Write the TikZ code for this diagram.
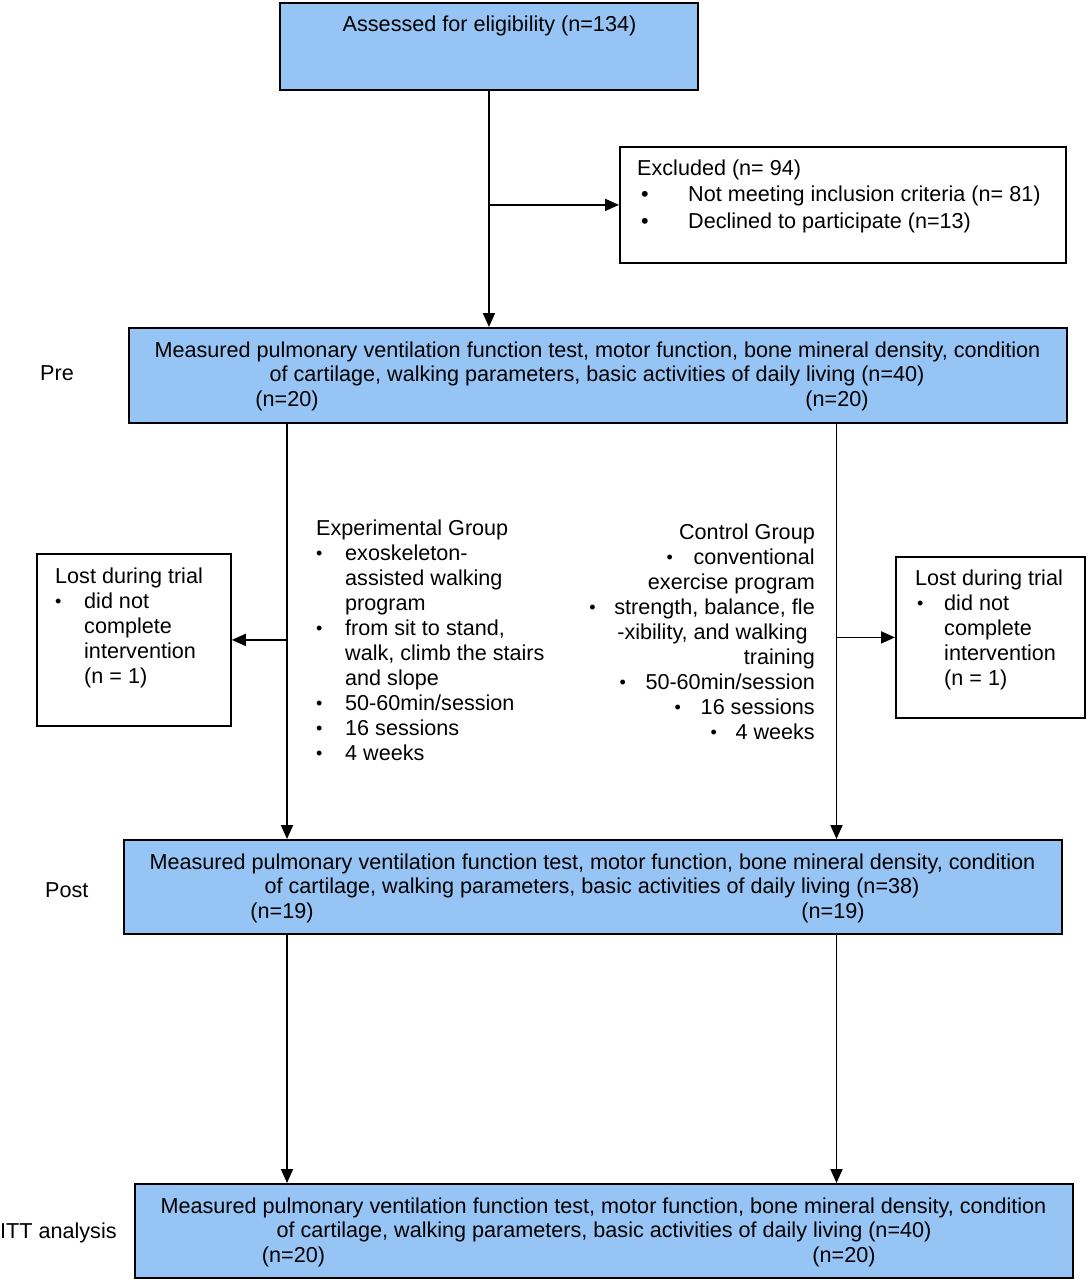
\documentclass[tikz,border=0pt]{standalone}
\usepackage{fontspec}
\setmainfont{Liberation Sans}
\usetikzlibrary{arrows.meta}
\definecolor{boxblue}{RGB}{150,196,245}
\newcommand{\bul}[1]{\makebox[#1][l]{\raisebox{0.5pt}{\fontsize{18}{18}\selectfont •}}}
\newcommand{\bigbul}[1]{\makebox[#1][l]{•}}
\begin{document}
\begin{tikzpicture}[x=1pt,y=-1pt,
  bluebox/.style={draw=black, line width=1.9pt, fill=boxblue, inner sep=0pt, anchor=north west},
  whitebox/.style={draw=black, line width=1.8pt, fill=white, inner sep=0pt, anchor=north west},
  txt/.style={font=\fontsize{21.6}{25}\selectfont, inner sep=0pt},
  tl/.style={txt, anchor=base west},
  tc/.style={txt, anchor=base},
  tr/.style={txt, anchor=base east},
  arr/.style={line width=1.8pt, -{Triangle[length=14pt,width=12pt]}}]
\useasboundingbox (0,0) rectangle (1088,1280);

% boxes
\node[bluebox, minimum width=418pt, minimum height=87pt] (top) at (279,2) {};
\node[whitebox, minimum width=446pt, minimum height=116pt] (excl) at (619,146) {};
\node[bluebox, minimum width=938pt, minimum height=95pt] (pre) at (128,327) {};
\node[whitebox, minimum width=194pt, minimum height=172pt] (lostL) at (36,553) {};
\node[whitebox, minimum width=189pt, minimum height=161pt] (lostR) at (895,556) {};
\node[bluebox, minimum width=938pt, minimum height=94pt] (post) at (123,839) {};
\node[bluebox, minimum width=938pt, minimum height=94pt] (itt) at (134,1183) {};

% top text
\node[tc] (topt) at (489.5,31) {Assessed for eligibility (n=134)};

% excluded
\node[tl] (ex0) at (637,175) {Excluded (n= 94)};
\node[tl] (ex1) at (641,201) {\bigbul{47pt}Not meeting inclusion criteria (n= 81)};
\node[tl] (ex2) at (641,228) {\bigbul{47pt}Declined to participate (n=13)};

% pre
\node[tc] (pre1) at (597.5,357) {Measured pulmonary ventilation function test, motor function, bone mineral density, condition};
\node[tc] (pre2) at (597,381) {of cartilage, walking parameters, basic activities of daily living (n=40)};
\node[tc] (preL) at (287,406) {(n=20)};
\node[tc] (preR) at (837,406) {(n=20)};
\node[tl] (prelab) at (40,380) {Pre};

% post
\node[tc] (post1) at (592.5,869) {Measured pulmonary ventilation function test, motor function, bone mineral density, condition};
\node[tc] (post2) at (592,893) {of cartilage, walking parameters, basic activities of daily living (n=38)};
\node[tc] (postL) at (282,918) {(n=19)};
\node[tc] (postR) at (833,918) {(n=19)};
\node[tl] (postlab) at (45,897) {Post};

% itt
\node[tc] (itt1) at (603.5,1213) {Measured pulmonary ventilation function test, motor function, bone mineral density, condition};
\node[tc] (itt2) at (604,1237) {of cartilage, walking parameters, basic activities of daily living (n=40)};
\node[tc] (ittL) at (293.5,1262) {(n=20)};
\node[tc] (ittR) at (844,1262) {(n=20)};
\node[tl] (ittlab) at (0,1238) {ITT analysis};

% lost left
\node[tl] (ll0) at (55,583) {Lost during trial};
\node[tl] (ll1) at (55,608) {\bul{29pt}did not};
\node[tl] (ll2) at (84,633) {complete};
\node[tl] (ll3) at (84,658) {intervention};
\node[tl] (ll4) at (84,683) {(n = 1)};

% lost right
\node[tl] (lr0) at (915,585) {Lost during trial};
\node[tl] (lr1) at (917,610) {\bul{27pt}did not};
\node[tl] (lr2) at (944,635) {complete};
\node[tl] (lr3) at (944,660) {intervention};
\node[tl] (lr4) at (944,685) {(n = 1)};

% experimental group
\node[tl] (eg0) at (316,535) {Experimental Group};
\node[tl] (eg1) at (316,560) {\bul{29pt}exoskeleton-};
\node[tl] (eg2) at (345,585) {assisted walking};
\node[tl] (eg3) at (345,610) {program};
\node[tl] (eg4) at (316,635) {\bul{29pt}from sit to stand,};
\node[tl] (eg5) at (345,660) {walk, climb the stairs};
\node[tl] (eg6) at (345,685) {and slope};
\node[tl] (eg7) at (316,710) {\bul{29pt}50-60min/session};
\node[tl] (eg8) at (316,735) {\bul{29pt}16 sessions};
\node[tl] (eg9) at (316,760) {\bul{29pt}4 weeks};

% control group
\node[tr] (cg0) at (815,539) {Control Group};
\node[tr] (cg1) at (815,564) {\bul{27pt}conventional};
\node[tr] (cg2) at (815,589) {exercise program};
\node[tr] (cg3) at (815,614) {\bul{25pt}strength, balance, fle};
\node[tr] (cg4) at (808,639) {-xibility, and walking};
\node[tr] (cg5) at (815,664) {training};
\node[tr] (cg6) at (815,689) {\bul{26pt}50-60min/session};
\node[tr] (cg7) at (815,714) {\bul{26pt}16 sessions};
\node[tr] (cg8) at (815,739) {\bul{25pt}4 weeks};

% connectors
\coordinate (cl) at (287,0);
\coordinate (cr) at (836.5,0);
\draw[arr] (top.south) -- (top.south |- pre.north);
\draw[arr] (top.south |- excl.west) -- (excl.west);
\draw[arr] (pre.south -| cl) -- (post.north -| cl);
\draw[arr] (pre.south -| cr) -- (post.north -| cr);
\draw[arr] (lostL.east -| cl) -- (lostL.east);
\draw[arr] (lostR.west -| cr) -- (lostR.west);
\draw[arr] (post.south -| cl) -- (itt.north -| cl);
\draw[arr] (post.south -| cr) -- (itt.north -| cr);
\end{tikzpicture}
\end{document}
